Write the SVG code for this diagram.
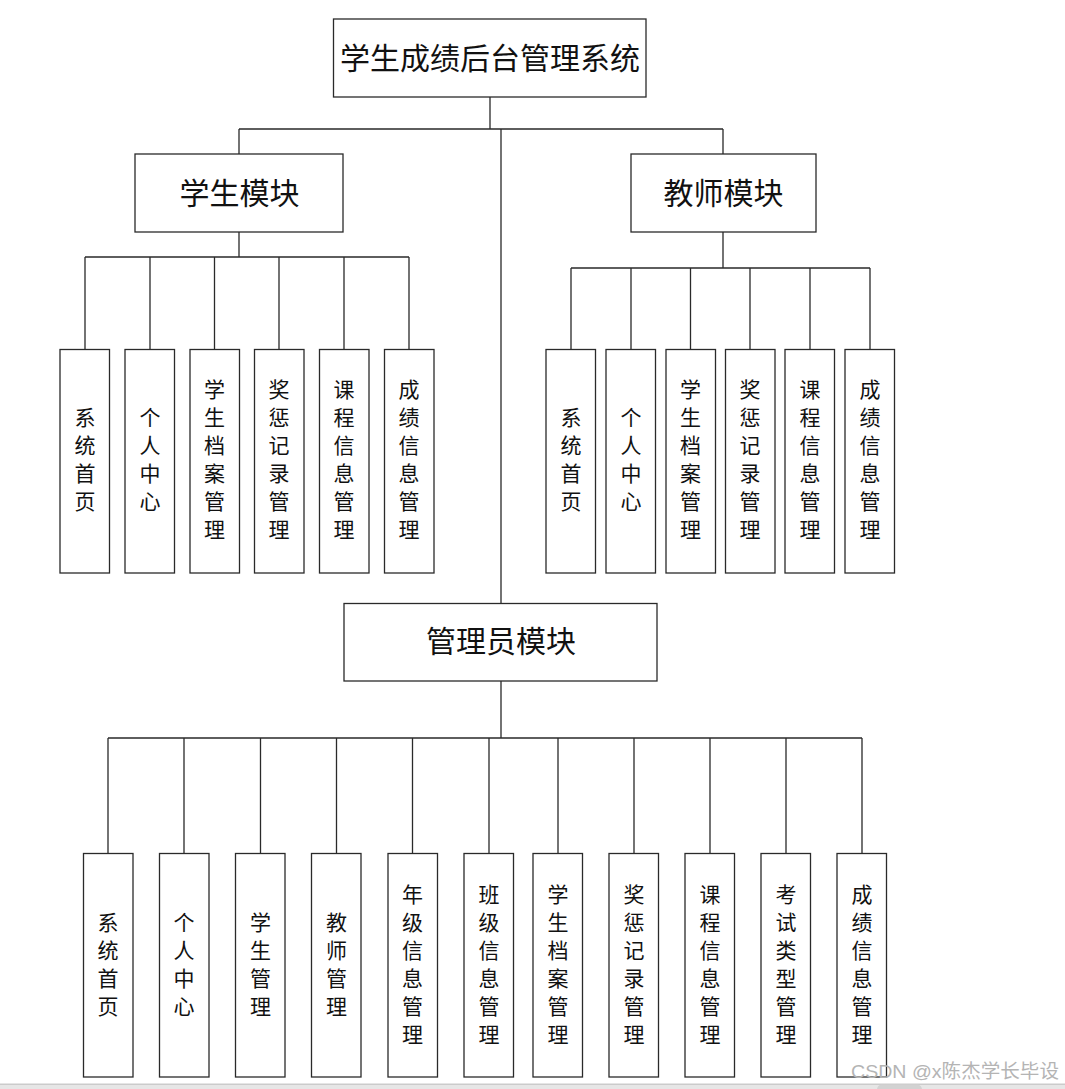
<svg xmlns="http://www.w3.org/2000/svg" width="1065" height="1089" viewBox="0 0 1065 1089">
<style>
.box{fill:#fff;stroke:#2a2a2a;stroke-width:1.3}
.ln{fill:none;stroke:#2a2a2a;stroke-width:1.3}
.h{font-family:"Noto Sans CJK SC","Noto Sans",sans-serif;font-size:30px;fill:#111;text-anchor:middle}
.v{font-family:"Noto Sans CJK SC","Noto Sans",sans-serif;font-size:21px;fill:#111;text-anchor:middle}
.wm{font-family:"Liberation Sans","Noto Sans CJK SC",sans-serif;font-size:19px;fill:#b4b4b4}
</style>
<rect width="1065" height="1089" fill="#fff"/>
<g id="connectors">
<path class="ln" d="M490,97V129M239,129H723M239,129V154M723,129V154M501,129V603"/>
<path class="ln" d="M239,232V257M85,257H409M85,257V349M150,257V349M214.5,257V349M279,257V349M344,257V349M409,257V349"/>
<path class="ln" d="M723,232V268M571,268H870M571,268V349M631,268V349M690.5,268V349M750,268V349M810,268V349M870,268V349"/>
<path class="ln" d="M501,681V738M108,738H862M108,738V853M184,738V853M260.5,738V853M336.5,738V853M412.5,738V853M489,738V853M558,738V853M634,738V853M710,738V853M786,738V853M862,738V853"/>
</g>
<g id="root"><rect class="box" x="333.5" y="19" width="312.5" height="78"/><text class="h" x="490" y="69">学生成绩后台管理系统</text></g>
<g id="student"><rect class="box" x="135" y="154" width="208" height="78"/><text class="h" x="239.5" y="204">学生模块</text></g>
<g id="teacher"><rect class="box" x="631" y="154" width="185" height="78"/><text class="h" x="723.5" y="204">教师模块</text></g>
<g id="admin"><rect class="box" x="344" y="603.5" width="313" height="77.5"/><text class="h" x="501" y="652">管理员模块</text></g>

<g id="s1"><rect class="box" x="60" y="349.5" width="49.5" height="223.5"/><text class="v" x="85" y="425">系</text><text class="v" x="85" y="453">统</text><text class="v" x="85" y="481">首</text><text class="v" x="85" y="509">页</text></g>
<g id="s2"><rect class="box" x="125" y="349.5" width="49.5" height="223.5"/><text class="v" x="150" y="425">个</text><text class="v" x="150" y="453">人</text><text class="v" x="150" y="481">中</text><text class="v" x="150" y="509">心</text></g>
<g id="s3"><rect class="box" x="190" y="349.5" width="49.5" height="223.5"/><text class="v" x="214.5" y="397">学</text><text class="v" x="214.5" y="425">生</text><text class="v" x="214.5" y="453">档</text><text class="v" x="214.5" y="481">案</text><text class="v" x="214.5" y="509">管</text><text class="v" x="214.5" y="537">理</text></g>
<g id="s4"><rect class="box" x="254.5" y="349.5" width="49.5" height="223.5"/><text class="v" x="279" y="397">奖</text><text class="v" x="279" y="425">惩</text><text class="v" x="279" y="453">记</text><text class="v" x="279" y="481">录</text><text class="v" x="279" y="509">管</text><text class="v" x="279" y="537">理</text></g>
<g id="s5"><rect class="box" x="319.5" y="349.5" width="49.5" height="223.5"/><text class="v" x="344" y="397">课</text><text class="v" x="344" y="425">程</text><text class="v" x="344" y="453">信</text><text class="v" x="344" y="481">息</text><text class="v" x="344" y="509">管</text><text class="v" x="344" y="537">理</text></g>
<g id="s6"><rect class="box" x="384.5" y="349.5" width="49.5" height="223.5"/><text class="v" x="409" y="397">成</text><text class="v" x="409" y="425">绩</text><text class="v" x="409" y="453">信</text><text class="v" x="409" y="481">息</text><text class="v" x="409" y="509">管</text><text class="v" x="409" y="537">理</text></g>

<g id="t1"><rect class="box" x="546" y="349.5" width="49.5" height="223.5"/><text class="v" x="571" y="425">系</text><text class="v" x="571" y="453">统</text><text class="v" x="571" y="481">首</text><text class="v" x="571" y="509">页</text></g>
<g id="t2"><rect class="box" x="606" y="349.5" width="49.5" height="223.5"/><text class="v" x="631" y="425">个</text><text class="v" x="631" y="453">人</text><text class="v" x="631" y="481">中</text><text class="v" x="631" y="509">心</text></g>
<g id="t3"><rect class="box" x="666" y="349.5" width="49.5" height="223.5"/><text class="v" x="690.5" y="397">学</text><text class="v" x="690.5" y="425">生</text><text class="v" x="690.5" y="453">档</text><text class="v" x="690.5" y="481">案</text><text class="v" x="690.5" y="509">管</text><text class="v" x="690.5" y="537">理</text></g>
<g id="t4"><rect class="box" x="725.5" y="349.5" width="49.5" height="223.5"/><text class="v" x="750" y="397">奖</text><text class="v" x="750" y="425">惩</text><text class="v" x="750" y="453">记</text><text class="v" x="750" y="481">录</text><text class="v" x="750" y="509">管</text><text class="v" x="750" y="537">理</text></g>
<g id="t5"><rect class="box" x="785" y="349.5" width="49.5" height="223.5"/><text class="v" x="810" y="397">课</text><text class="v" x="810" y="425">程</text><text class="v" x="810" y="453">信</text><text class="v" x="810" y="481">息</text><text class="v" x="810" y="509">管</text><text class="v" x="810" y="537">理</text></g>
<g id="t6"><rect class="box" x="845" y="349.5" width="49.5" height="223.5"/><text class="v" x="870" y="397">成</text><text class="v" x="870" y="425">绩</text><text class="v" x="870" y="453">信</text><text class="v" x="870" y="481">息</text><text class="v" x="870" y="509">管</text><text class="v" x="870" y="537">理</text></g>

<g id="a1"><rect class="box" x="83.5" y="853.5" width="49.5" height="223.5"/><text class="v" x="108" y="930">系</text><text class="v" x="108" y="958">统</text><text class="v" x="108" y="986">首</text><text class="v" x="108" y="1014">页</text></g>
<g id="a2"><rect class="box" x="159.5" y="853.5" width="49.5" height="223.5"/><text class="v" x="184" y="930">个</text><text class="v" x="184" y="958">人</text><text class="v" x="184" y="986">中</text><text class="v" x="184" y="1014">心</text></g>
<g id="a3"><rect class="box" x="235.5" y="853.5" width="49.5" height="223.5"/><text class="v" x="260.5" y="930">学</text><text class="v" x="260.5" y="958">生</text><text class="v" x="260.5" y="986">管</text><text class="v" x="260.5" y="1014">理</text></g>
<g id="a4"><rect class="box" x="311.5" y="853.5" width="49.5" height="223.5"/><text class="v" x="336.5" y="930">教</text><text class="v" x="336.5" y="958">师</text><text class="v" x="336.5" y="986">管</text><text class="v" x="336.5" y="1014">理</text></g>
<g id="a5"><rect class="box" x="388" y="853.5" width="49.5" height="223.5"/><text class="v" x="412.5" y="902">年</text><text class="v" x="412.5" y="930">级</text><text class="v" x="412.5" y="958">信</text><text class="v" x="412.5" y="986">息</text><text class="v" x="412.5" y="1014">管</text><text class="v" x="412.5" y="1042">理</text></g>
<g id="a6"><rect class="box" x="464" y="853.5" width="49.5" height="223.5"/><text class="v" x="489" y="902">班</text><text class="v" x="489" y="930">级</text><text class="v" x="489" y="958">信</text><text class="v" x="489" y="986">息</text><text class="v" x="489" y="1014">管</text><text class="v" x="489" y="1042">理</text></g>
<g id="a7"><rect class="box" x="533" y="853.5" width="49.5" height="223.5"/><text class="v" x="558" y="902">学</text><text class="v" x="558" y="930">生</text><text class="v" x="558" y="958">档</text><text class="v" x="558" y="986">案</text><text class="v" x="558" y="1014">管</text><text class="v" x="558" y="1042">理</text></g>
<g id="a8"><rect class="box" x="609" y="853.5" width="49.5" height="223.5"/><text class="v" x="634" y="902">奖</text><text class="v" x="634" y="930">惩</text><text class="v" x="634" y="958">记</text><text class="v" x="634" y="986">录</text><text class="v" x="634" y="1014">管</text><text class="v" x="634" y="1042">理</text></g>
<g id="a9"><rect class="box" x="685" y="853.5" width="49.5" height="223.5"/><text class="v" x="710" y="902">课</text><text class="v" x="710" y="930">程</text><text class="v" x="710" y="958">信</text><text class="v" x="710" y="986">息</text><text class="v" x="710" y="1014">管</text><text class="v" x="710" y="1042">理</text></g>
<g id="a10"><rect class="box" x="761" y="853.5" width="49.5" height="223.5"/><text class="v" x="786" y="902">考</text><text class="v" x="786" y="930">试</text><text class="v" x="786" y="958">类</text><text class="v" x="786" y="986">型</text><text class="v" x="786" y="1014">管</text><text class="v" x="786" y="1042">理</text></g>
<g id="a11"><rect class="box" x="837" y="853.5" width="49.5" height="223.5"/><text class="v" x="862" y="902">成</text><text class="v" x="862" y="930">绩</text><text class="v" x="862" y="958">信</text><text class="v" x="862" y="986">息</text><text class="v" x="862" y="1014">管</text><text class="v" x="862" y="1042">理</text></g>

<rect x="0" y="1083.5" width="1065" height="1.5" fill="#cbcbcb"/>
<rect x="0" y="1085" width="1065" height="4" fill="#e6e6e6"/>
<rect x="877" y="1084.5" width="45" height="10" rx="5" fill="#d2d2d2"/>
<text class="wm" x="851" y="1078" textLength="208" lengthAdjust="spacingAndGlyphs">CSDN @x陈杰学长毕设</text>
</svg>
